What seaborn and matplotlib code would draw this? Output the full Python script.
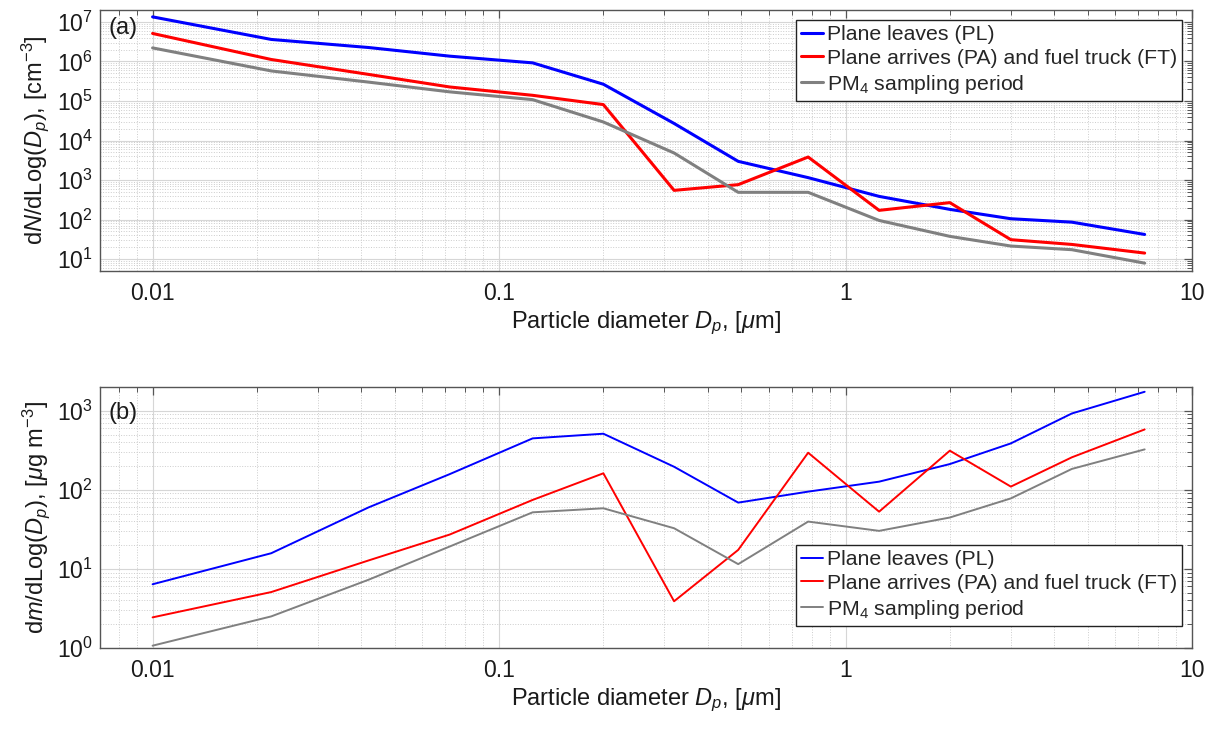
import numpy as np
import pandas as pd
import matplotlib
matplotlib.use('Agg')
import matplotlib.pyplot as plt
import seaborn as sns
from matplotlib.ticker import LogLocator, FixedLocator, FixedFormatter, NullFormatter

# ---------------- data ----------------
dp = [0.01, 0.022, 0.042, 0.072, 0.125, 0.2, 0.32, 0.49, 0.78, 1.25, 2.0, 3.0, 4.5, 7.3]
series_names = ['Plane leaves (PL)', 'Plane arrives (PA) and fuel truck (FT)',
                r'PM$_4$ sampling period']
series_colors = ['#0000ff', '#ff0000', '#808080']

num_pl = [1.34e7, 3.6e6, 2.25e6, 1.36e6, 9.2e5, 2.65e5, 2.7e4, 2970, 1150, 386, 181, 105, 86, 42]
num_pa = [5.1e6, 1.12e6, 4.7e5, 2.26e5, 1.39e5, 8.1e4, 548, 764, 3820, 171, 268, 31, 23.5, 14.2]
num_pm = [2.2e6, 5.75e5, 3.0e5, 1.7e5, 1.08e5, 2.94e4, 4830, 489, 489, 95, 37.6, 21.4, 17.3, 7.9]

mass_pl = [6.4, 15.8, 60, 158, 448, 513, 196, 69, 95, 127, 212, 387, 925, 1740]
mass_pa = [2.44, 5.1, 12.8, 27.2, 74.6, 162, 3.9, 17.4, 295, 53, 313, 110, 258, 581]
mass_pm = [1.07, 2.51, 7.3, 19.2, 52, 58.5, 32.7, 11.5, 39.7, 30.3, 44.7, 78, 184, 325]

x_ticks = [0.01, 0.1, 1, 10]
x_tick_labels = ['0.01', '0.1', '1', '10']


def long_df(values_list):
    frames = []
    for name, vals in zip(series_names, values_list):
        frames.append(pd.DataFrame({'Dp': dp, 'val': vals, 'series': name}))
    return pd.concat(frames, ignore_index=True)


df_num = long_df([num_pl, num_pa, num_pm])
df_mass = long_df([mass_pl, mass_pa, mass_pm])

# ---------------- style ----------------
sns.set_style('white')
plt.rcParams['font.family'] = ['Liberation Sans', 'DejaVu Sans']
plt.rcParams['mathtext.fontset'] = 'custom'
plt.rcParams['mathtext.rm'] = 'Liberation Sans'
plt.rcParams['mathtext.it'] = 'Liberation Sans:italic'
plt.rcParams['mathtext.bf'] = 'Liberation Sans:bold'

W, H = 1208, 730
fig = plt.figure(figsize=(W / 100, H / 100), dpi=100)

ax_left, ax_right = 100, 1192
ax1 = fig.add_axes([ax_left / W, 1 - 271 / H, (ax_right - ax_left) / W, (271 - 10) / H])
ax2 = fig.add_axes([ax_left / W, 1 - 648 / H, (ax_right - ax_left) / W, (648 - 387) / H])

palette = dict(zip(series_names, series_colors))

sns.lineplot(data=df_num, x='Dp', y='val', hue='series', palette=palette,
             hue_order=series_names, errorbar=None, linewidth=2.2, ax=ax1)
sns.lineplot(data=df_mass, x='Dp', y='val', hue='series', palette=palette,
             hue_order=series_names, errorbar=None, linewidth=1.4, ax=ax2)

TFS = 16.5   # tick labels
LFS = 17     # axis labels
GFS = 15.3   # legend
spine_col = '#555555'
txt_col = '#1a1a1a'
for ax, ylim, lab, tag, tagy, legtop in [
        (ax1, (5, 2e7), r'd$N$/dLog($D_p$), [cm$^{-3}$]', '(a)', 0.93, 0.962),
        (ax2, (1, 2000), r'd$m$/dLog($D_p$), [$\mu$g m$^{-3}$]', '(b)', 0.90, 0.395)]:
    ax.set_xscale('log')
    ax.set_yscale('log')
    ax.set_xlim(0.00705, 10)
    ax.set_ylim(*ylim)
    ax.xaxis.set_major_locator(FixedLocator(x_ticks))
    ax.xaxis.set_major_formatter(FixedFormatter(x_tick_labels))
    ax.xaxis.set_minor_locator(LogLocator(base=10, subs=np.arange(2, 10), numticks=20))
    ax.xaxis.set_minor_formatter(NullFormatter())
    ax.yaxis.set_major_locator(LogLocator(base=10, numticks=20))
    ax.yaxis.set_minor_locator(LogLocator(base=10, subs=np.arange(2, 10), numticks=20))
    ax.yaxis.set_minor_formatter(NullFormatter())
    ax.tick_params(which='both', direction='in', top=True, right=True, colors=spine_col,
                   labelcolor=txt_col, labelsize=TFS)
    ax.tick_params(which='major', length=6, width=0.9)
    ax.tick_params(which='minor', length=3.5, width=0.7)
    ax.tick_params(axis='x', which='major', pad=8)
    ax.tick_params(axis='y', which='major', pad=5)
    ax.grid(True, which='major', color='#d6d6d6', linestyle='-', linewidth=0.8)
    ax.grid(True, which='minor', color='#cccccc', linestyle=':', linewidth=0.7)
    ax.set_axisbelow(True)
    for s in ax.spines.values():
        s.set_color(spine_col)
        s.set_linewidth(1.0)
        s.set_visible(True)
    ax.set_xlabel(r'Particle diameter $D_p$, [$\mu$m]', fontsize=LFS, color=txt_col, labelpad=3)
    ax.set_ylabel(lab, fontsize=LFS, color=txt_col, labelpad=4)
    ax.text(0.008, tagy, tag, transform=ax.transAxes, fontsize=LFS, ha='left', va='center',
            color=txt_col)
    handles, labels = ax.get_legend_handles_labels()
    leg = ax.legend(handles, labels, loc='upper right', bbox_to_anchor=(0.991, legtop),
                    borderaxespad=0, fontsize=GFS, frameon=True, fancybox=False,
                    framealpha=1, edgecolor='#222222', handlelength=1.05,
                    handletextpad=0.15, labelspacing=0.22, borderpad=0.25)
    leg.get_frame().set_linewidth(1.0)

fig.savefig('out.png', dpi=100)
